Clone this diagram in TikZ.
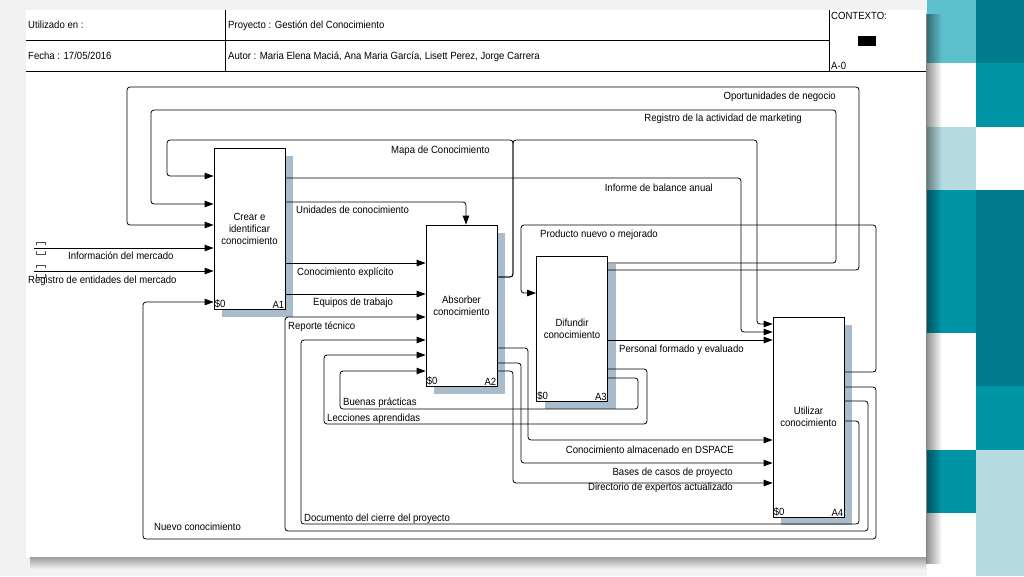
\documentclass[tikz,border=0pt]{standalone}
\usepackage{fontspec}
\setmainfont{Liberation Sans}[FakeStretch=0.92]
\usetikzlibrary{arrows.meta,shadows}

\definecolor{boxshade}{HTML}{A9BCCB}
\definecolor{tealdark}{HTML}{007A8D}
\definecolor{tealmid}{HTML}{0095A6}
\definecolor{teallight}{HTML}{5EC0CC}
\definecolor{tealpale}{HTML}{B4DBE0}
\definecolor{pagegray}{HTML}{F2F2F2}

\begin{document}
\begin{tikzpicture}
    [
    x=1pt, y=-1pt,
    every node/.style={font=\fontsize{10.4}{12}\selectfont},
    func/.style={draw, line width=0.8pt, fill=white, inner sep=0pt, align=center,
      minimum width=71pt,
      general shadow={fill=boxshade, shadow xshift=8pt, shadow yshift=-7.5pt}},
    tag/.style={inner sep=1pt},
    lbl/.style={inner sep=0pt},
    flow/.style={line width=0.8pt, rounded corners=3pt, -{Triangle[length=9pt,width=6.5pt]}},
    rule/.style={line width=0.8pt},
    tunnel/.style={line width=0.6pt, black!70},
    ]
    \useasboundingbox (0,0) rectangle (1024,576);
    % page and side pattern
    \fill[pagegray] (0,0) rectangle (1024,576);
    \fill[white] (927,0) rectangle (1024,576);
    \fill[teallight] (927,0) rectangle (976,63);
    \fill[tealpale] (927,127) rectangle (976,190);
    \fill[tealmid] (927,190) rectangle (976,333);
    \fill[tealmid] (927,450) rectangle (976,513);
    \fill[tealdark] (976,0) rectangle (1024,63);
    \fill[tealmid] (976,63) rectangle (1024,127);
    \fill[tealdark] (976,190) rectangle (1024,386);
    \fill[tealmid] (976,386) rectangle (1024,450);
    \fill[tealpale] (976,450) rectangle (1024,576);
    \foreach \i in {0,...,15} {
      \pgfmathsetmacro{\op}{0.45*(1-\i/16)}
      \fill[black, opacity=\op] (926+\i,14) rectangle (927+\i,564);
    }
    \foreach \i in {0,...,11} {
      \pgfmathsetmacro{\op}{0.35*(1-\i/12)}
      \fill[black, opacity=\op] (30,557+\i) rectangle (926,558+\i);
    }
    \fill[white] (26,10) rectangle (926,557);

    % header
    \draw[rule] (26,40) -- (829,40);
    \draw[rule] (26,71) -- (926,71);
    \draw[rule] (225,10) -- (225,71);
    \draw[rule] (829,10) -- (829,71);
    \fill (858,36) rectangle (876,46);
    \node[lbl, anchor=base west] (used) at (28,28) {Utilizado en :};
    \node[lbl, anchor=base west] (proj) at (228,28) {Proyecto : Gestión del Conocimiento};
    \node[lbl, anchor=base west] (date) at (28,59) {Fecha : 17/05/2016};
    \node[lbl, anchor=base west] (auth) at (228,59) {Autor : Maria Elena Maciá, Ana Maria García, Lisett Perez, Jorge Carrera};
    \node[lbl, anchor=base west] (ctx) at (831,19) {CONTEXTO:};
    \node[lbl, anchor=base west] (diag) at (831,69) {A-0};

    % activities
    \node[func, minimum height=161pt] (a1) at (249.5,228.5) {Crear e\\identificar\\conocimiento};
    \node[func, minimum height=161pt] (a2) at (461.5,305.5) {Absorber\\conocimiento};
    \node[func, minimum height=145pt] (a3) at (572,328.5) {Difundir\\conocimiento};
    \node[func, minimum height=200pt] (a4) at (808.5,417) {Utilizar\\conocimiento};
    \node[tag, anchor=south west] (a1s) at (a1.south west) {\$0};
    \node[tag, anchor=south east] (a1n) at (a1.south east) {A1};
    \node[tag, anchor=south west] (a2s) at (a2.south west) {\$0};
    \node[tag, anchor=south east] (a2n) at (a2.south east) {A2};
    \node[tag, anchor=south west] (a3s) at (a3.south west) {\$0};
    \node[tag, anchor=south east] (a3n) at (a3.south east) {A3};
    \node[tag, anchor=south west] (a4s) at (a4.south west) {\$0};
    \node[tag, anchor=south east] (a4n) at (a4.south east) {A4};

    % outside inputs
    \coordinate (mercin) at (34,248);
    \coordinate (regin) at (34,271);
    \draw[tunnel] (36,245) -- (36,242) -- (45,242) -- (45,245);
    \draw[tunnel] (36,251) -- (36,254) -- (45,254) -- (45,251);
    \draw[tunnel] (36,268) -- (36,265) -- (45,265) -- (45,268);
    \draw[tunnel] (36,274) -- (36,277) -- (45,277) -- (45,274);
    \draw[flow] (mercin) -- (a1.west |- 0,248);
    \draw[flow] (regin) -- (a1.west |- 0,271);

    % feedback to A1
    \coordinate (mapfork) at (513,140);
    \draw[flow] (a3.east |- 0,270) -| (859,87) -| (127,225) -- (a1.west |- 0,225);
    \draw[flow] (a3.east |- 0,263) -| (836,110) -| (151,204) -- (a1.west |- 0,204);
    \draw[flow] (a2.east |- 0,277) -| (mapfork) -| (167,176) -- (a1.west |- 0,176);
    \draw[flow] (a2.east |- 0,277) -| (mapfork) -| (757,324) -- (a4.west |- 0,324);
    \draw[flow] (a4.east |- 0,387) -| (876,539) -| (143,302) -- (a1.west |- 0,302);

    % A1 outputs
    \draw[flow] (a1.east |- 0,178) -| (741,332) -- (a4.west |- 0,332);
    \draw[flow] (a1.east |- 0,202) -| (a2.north -| 466,0);
    \draw[flow] (a1.east |- 0,263) -- (a2.west |- 0,263);
    \draw[flow] (a1.east |- 0,294) -- (a2.west |- 0,294);

    % loops back to A2
    \draw[flow] (a4.east |- 0,401) -| (868,531) -| (285,317) -- (a2.west |- 0,317);
    \draw[flow] (a4.east |- 0,421) -| (859,524) -| (301,340) -- (a2.west |- 0,340);
    \draw[flow] (a3.east |- 0,369) -| (647,424) -| (324,355) -- (a2.west |- 0,355);
    \draw[flow] (a3.east |- 0,378) -| (638,409) -| (340,371) -- (a2.west |- 0,371);

    % A2 and A3 outputs
    \draw[flow] (a4.east |- 0,372) -| (876,225) -| (521,293) -- (a3.west |- 0,293);
    \draw[flow] (a3.east |- 0,340) -- (a4.west |- 0,340);
    \draw[flow] (a2.east |- 0,348) -| (528,440) -- (a4.west |- 0,440);
    \draw[flow] (a2.east |- 0,363) -| (521,463) -- (a4.west |- 0,463);
    \draw[flow] (a2.east |- 0,371) -| (513,483) -- (a4.west |- 0,483);

    % labels
    \node[lbl, anchor=base east] (lopor) at (836,99) {Oportunidades de negocio};
    \node[lbl, anchor=base east] (lmark) at (802,121) {Registro de la actividad de marketing};
    \node[lbl, anchor=base west] (lmapa) at (391,153) {Mapa de Conocimiento};
    \node[lbl, anchor=base east] (linfo) at (713,191) {Informe de balance anual};
    \node[lbl, anchor=base west] (lunid) at (296,213) {Unidades de conocimiento};
    \node[lbl, anchor=base west] (lprod) at (540,237) {Producto nuevo o mejorado};
    \node[lbl, anchor=base west] (lexpl) at (297,275) {Conocimiento explícito};
    \node[lbl, anchor=base west] (lequi) at (313,305) {Equipos de trabajo};
    \node[lbl, anchor=base west] (lrepo) at (288,329) {Reporte técnico};
    \node[lbl, anchor=base west] (lbuen) at (343,405) {Buenas prácticas};
    \node[lbl, anchor=base west] (llecc) at (327,421) {Lecciones aprendidas};
    \node[lbl, anchor=base west] (ldocu) at (304,521) {Documento del cierre del proyecto};
    \node[lbl, anchor=base west] (lnuev) at (154,530) {Nuevo conocimiento};
    \node[lbl, anchor=base west] (lpers) at (619,352) {Personal formado y evaluado};
    \node[lbl, anchor=base east] (ldspa) at (734,453) {Conocimiento almacenado en DSPACE};
    \node[lbl, anchor=base east] (lbase) at (733,475) {Bases de casos de proyecto};
    \node[lbl, anchor=base east] (ldire) at (733,490) {Directorio de expertos actualizado};
    \node[lbl, anchor=base west] (lmerc) at (68,259) {Información del mercado};
    \node[lbl, anchor=base west] (lregi) at (28,283) {Registro de entidades del mercado};
\end{tikzpicture}
\end{document}
